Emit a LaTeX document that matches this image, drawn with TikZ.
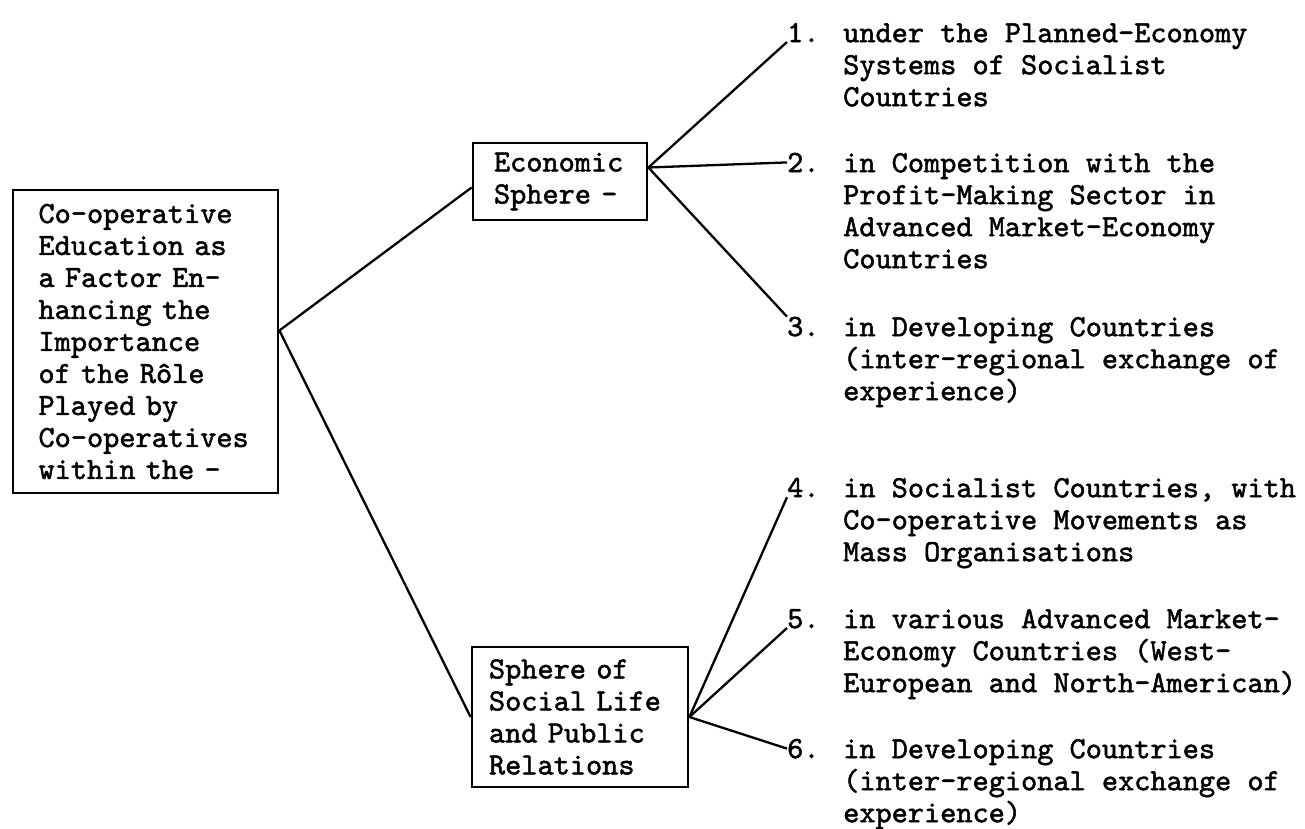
\documentclass[tikz,border=0pt]{standalone}
\usepackage{fontspec}
\newfontfamily\typewriter[FakeBold=1.6]{lmmono10-regular.otf}
\usepackage{tikz}
\usetikzlibrary{positioning,calc}

\newcommand{\typed}{\fontsize{30.8}{32}\selectfont\typewriter}
\newcommand{\topline}{\rule{0pt}{25pt}}

\tikzset{
  box/.style={draw, line width=2.8pt, inner sep=0pt, align=left, font=\typed},
  item/.style={inner sep=0pt, align=left, anchor=north west, font=\typed},
  num/.style={inner sep=0pt, anchor=base west, font=\typed},
  link/.style={line width=2.3pt}
}

\begin{document}
\begin{tikzpicture}[x=1pt, y=-1pt]
\useasboundingbox (0,0) rectangle (1305,828);

% the three boxes
\node[box, minimum width=265, minimum height=303, text width=214] (cause) at (145.5,341.5)
  {Co-operative\\Education as\\a Factor En-\\hancing the\\Importance\\of the R\^ole\\Played by\\Co-operatives\\within the -};
\node[box, minimum width=174, minimum height=77, text width=132] (econ) at (560,181.5)
  {Economic\\Sphere -};
\node[box, minimum width=216, minimum height=140, text width=182] (social) at (580,717)
  {Sphere of\\Social Life\\and Public\\Relations};

% numbers
\node[num] (n1) at (787,42)  {1.};
\node[num] (n2) at (787,172) {2.};
\node[num] (n3) at (787,336) {3.};
\node[num] (n4) at (787,497) {4.};
\node[num] (n5) at (787,628) {5.};
\node[num] (n6) at (787,758) {6.};

% items
\node[item] (t1) at (843,17)  {\topline under the Planned-Economy\\Systems of Socialist\\Countries};
\node[item] (t2) at (843,147) {\topline in Competition with the\\Profit-Making Sector in\\Advanced Market-Economy\\Countries};
\node[item] (t3) at (843,311) {\topline in Developing Countries\\(inter-regional exchange of\\experience)};
\node[item] (t4) at (843,472) {\topline in Socialist Countries, with\\Co-operative Movements as\\Mass Organisations};
\node[item] (t5) at (843,603) {\topline in various Advanced Market-\\Economy Countries (West-\\European and North-American)};
\node[item] (t6) at (843,733) {\topline in Developing Countries\\(inter-regional exchange of\\experience)};

% connectors
\coordinate (hub) at ([yshift=11pt]cause.east);
\coordinate (eout) at ([yshift=14pt]econ.east);
\draw[link] (hub) -- ([yshift=-6pt]econ.west);
\draw[link] (hub) -- (social.west);
\draw[link] (eout) -- (n1.base west);
\draw[link] (eout) -- (n2.west);
\draw[link] (eout) -- (n3.north west);
\draw[link] (social.east) -- (n4.south west);
\draw[link] (social.east) -- (n5.base west);
\draw[link] (social.east) -- (n6.west);
\end{tikzpicture}
\end{document}
